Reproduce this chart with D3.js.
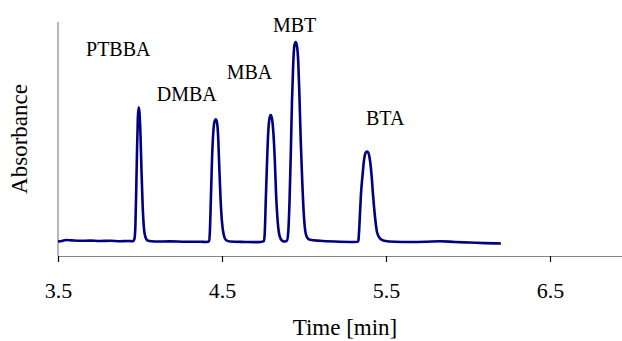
<!DOCTYPE html>
<html>
<head>
<meta charset="utf-8">
<script src="https://cdn.jsdelivr.net/npm/d3@7"></script>
<style>
  body { margin: 0; background: #fff; }
  svg { display: block; }
</style>
</head>
<body>
<div id="chart"></div>
<script>
// chromatogram trace (time in min, absorbance in arbitrary units)
var times = [
  3.500, 3.524, 3.549, 3.585, 3.634, 3.695, 3.756, 3.817, 3.878, 3.927, 3.957, 3.966,
  3.972, 3.977, 3.982, 3.987, 3.992, 3.997, 4.003, 4.009, 4.016, 4.024, 4.034, 4.049,
  4.091, 4.183, 4.274, 4.366, 4.409, 4.421,
  4.426, 4.432, 4.439, 4.447, 4.455, 4.462, 4.469, 4.476, 4.483, 4.491, 4.500, 4.511,
  4.524, 4.549, 4.640, 4.720, 4.744,
  4.756, 4.761, 4.767, 4.774, 4.782, 4.790, 4.797, 4.805, 4.813, 4.822, 4.830, 4.840,
  4.851, 4.866, 4.884, 4.896,
  4.904, 4.912, 4.920, 4.927, 4.934, 4.941, 4.949, 4.957, 4.965, 4.972, 4.980, 4.989,
  4.998, 5.007, 5.019, 5.037, 5.098, 5.189, 5.280, 5.329,
  5.332, 5.338, 5.347, 5.357, 5.366, 5.375, 5.384, 5.393, 5.402, 5.412, 5.421, 5.433,
  5.445, 5.463, 5.488, 5.555, 5.646, 5.738, 5.829, 5.921, 6.012, 6.104, 6.201
];
var absorb = [
  0.074, 0.077, 0.082, 0.080, 0.078, 0.079, 0.077, 0.078, 0.076, 0.077, 0.076, 0.087,
  0.159, 0.338, 0.544, 0.708, 0.762, 0.733, 0.621, 0.441, 0.262, 0.144, 0.095, 0.078,
  0.074, 0.075, 0.073, 0.073, 0.072, 0.077,
  0.123, 0.287, 0.492, 0.636, 0.692, 0.701, 0.687, 0.621, 0.467, 0.297, 0.174, 0.108,
  0.082, 0.074, 0.072, 0.071, 0.073,
  0.077, 0.123, 0.287, 0.467, 0.636, 0.708, 0.723, 0.703, 0.636, 0.492, 0.313, 0.174,
  0.103, 0.079, 0.074, 0.079,
  0.123, 0.287, 0.544, 0.800, 0.979, 1.077, 1.097, 1.077, 0.995, 0.826, 0.595, 0.390,
  0.226, 0.133, 0.095, 0.083, 0.078, 0.074, 0.072, 0.073,
  0.082, 0.159, 0.313, 0.415, 0.492, 0.528, 0.536, 0.528, 0.492, 0.415, 0.313, 0.200,
  0.123, 0.090, 0.078, 0.073, 0.072, 0.073, 0.076, 0.072, 0.069, 0.066, 0.064
];

// peak labels: name, time and height of the text baseline
var peakNames = ["PTBBA", "DMBA", "MBA", "MBT", "BTA"];
var peakLabelT = [3.671, 4.102, 4.529, 4.811, 5.378];
var peakLabelV = [1.027, 0.795, 0.908, 1.151, 0.672];

var xTicks = [3.5, 4.5, 5.5, 6.5];

var width = 622, height = 341;
var margin = { top: 22, left: 58, bottom: 85 };
var serif = '"Liberation Serif", "Times New Roman", serif';

var x = d3.scaleLinear().domain([3.5, 7.0]).range([margin.left, margin.left + 574]);
var y = d3.scaleLinear().domain([0, 1.2]).range([height - margin.bottom, margin.top]);

var svg = d3.select("#chart").append("svg")
    .attr("width", width)
    .attr("height", height);

// y axis (plain line, no ticks)
svg.append("line")
    .attr("x1", x(3.5)).attr("x2", x(3.5))
    .attr("y1", y(1.2)).attr("y2", y(0))
    .attr("stroke", "#868686")
    .attr("stroke-width", 1.2);

// x axis
var xAxis = svg.append("g")
    .attr("transform", "translate(0," + y(0) + ")")
    .call(d3.axisBottom(x).tickValues(xTicks).tickSize(6).tickSizeOuter(0).tickFormat(d3.format(".1f")));

xAxis.attr("font-family", serif).attr("font-size", 22);
xAxis.select(".domain").attr("stroke", "#868686").attr("stroke-width", 1.2);
xAxis.selectAll(".tick line").attr("stroke", "#000").attr("stroke-width", 1.2);
xAxis.selectAll(".tick text")
    .attr("y", 42)
    .attr("dy", 0)
    .style("font-family", serif)
    .style("font-size", "22px")
    .attr("fill", "#000");

var line = d3.line()
    .x(function(d, i) { return x(times[i]); })
    .y(function(d, i) { return y(absorb[i]); })
    .curve(d3.curveMonotoneX);

svg.append("path")
    .datum(times)
    .attr("d", line)
    .attr("fill", "none")
    .attr("stroke", "#000080")
    .attr("stroke-width", 2.6)
    .attr("stroke-linejoin", "round");

svg.selectAll(".peak")
    .data(peakNames)
    .enter().append("text")
    .attr("class", "peak")
    .attr("x", function(d, i) { return x(peakLabelT[i]); })
    .attr("y", function(d, i) { return y(peakLabelV[i]); })
    .style("font-family", serif)
    .style("font-size", "20px")
    .text(function(d) { return d; });

svg.append("text")
    .attr("text-anchor", "middle")
    .attr("transform", "translate(26.5," + ((y(0) + y(1.2)) / 2) + ") rotate(-90)")
    .style("font-family", serif)
    .style("font-size", "23px")
    .text("Absorbance");

svg.append("text")
    .attr("text-anchor", "middle")
    .attr("x", (x(3.5) + x(7.0)) / 2)
    .attr("y", 335)
    .style("font-family", serif)
    .style("font-size", "23px")
    .text("Time [min]");
</script>
</body>
</html>
